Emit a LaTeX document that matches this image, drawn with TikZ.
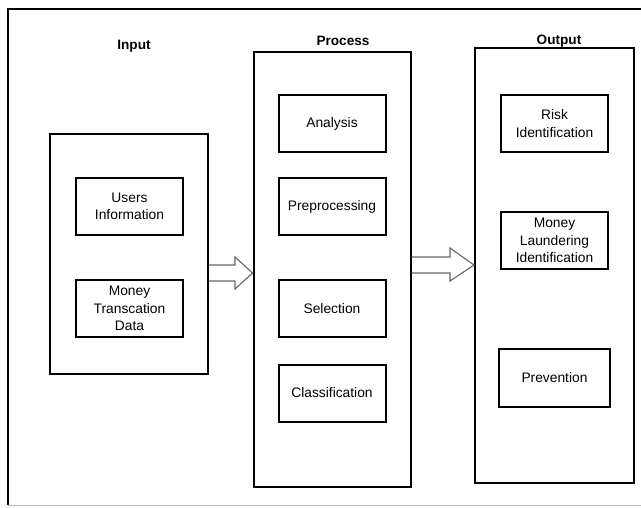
\documentclass[tikz,border=0pt]{standalone}
\usepackage{fontspec}
\setmainfont{Liberation Sans}
\usetikzlibrary{positioning,calc}
\tikzset{
	panel/.style={draw=black,line width=2pt,minimum width=158pt,minimum height=435pt,inner sep=0pt},
	blk/.style={draw=black,line width=2pt,minimum width=107pt,minimum height=57pt,inner sep=2pt,
		align=center,font=\fontsize{13.8}{17.3}\selectfont},
	head/.style={font=\fontsize{13.6}{16}\selectfont\bfseries},
	hollow/.style={draw=black!60,line width=1.1pt,line join=miter},
}

\begin{document}
\begin{tikzpicture}[x=1pt,y=-1pt]
	\useasboundingbox (0,0) rectangle (641,507);
	% frame
	\draw[line width=2pt] (641,8.5) -- (7.5,8.5) -- (7.5,505);
	\draw[black!25,line width=1pt] (7.5,505) -- (641,505);
	% panels
	\node[panel,minimum height=240pt] (inp) at (129,254) {};
	\node[panel,minimum width=157pt] (proc) at (332,269.5) {};
	\node[panel,minimum width=159pt] (out) at (554.5,265.5) {};
	\node[head] (tin) at (134,46) {Input};
	\node[head] (tproc) at (343,41) {Process};
	\node[head] (tout) at (559,41) {Output};
	% blocks
	\foreach \n/\y/\t in {ui/206.5/{Users\\Information},mt/308.5/{Money\\Transcation\\Data}}
	\node[blk] (\n) at (129.5,\y) {\t};
	\foreach \n/\y/\t in {ana/123.5/Analysis,pre/206.5/Preprocessing,sel/308.5/Selection,cls/393/Classification}
	\node[blk] (\n) at (332,\y) {\t};
	\foreach \n/\y/\t in {risk/123.5/{Risk\\Identification},ml/240.5/{Money\\Laundering\\Identification}}
	\node[blk] (\n) at (554.5,\y) {\t};
	\node[blk,minimum width=111pt,minimum height=58pt] (prev) at (554.5,378) {Prevention};
	% arrows
	\draw[hollow] (inp.east |- 0,265) -- (235,265) -- (235,257) -- (proc.west |- 0,273)
		-- (235,289) -- (235,281) -- (inp.east |- 0,281);
	\draw[hollow] (proc.east |- 0,257) -- (450,257) -- (450,248) -- (out.west |- 0,265)
		-- (450,281) -- (450,273) -- (proc.east |- 0,273);
\end{tikzpicture}
\end{document}
